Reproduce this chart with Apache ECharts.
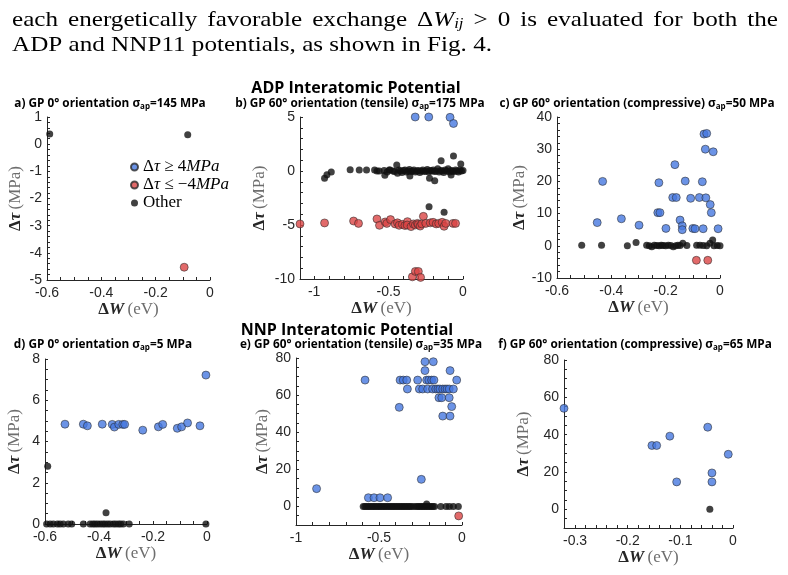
<!DOCTYPE html>
<html>
<head>
<meta charset="utf-8">
<script src="https://cdn.jsdelivr.net/npm/echarts@6/dist/echarts.min.js"></script>
<style>
  html, body { margin: 0; padding: 0; background: #fff; }
  #chart { width: 788px; height: 575px; }
</style>
</head>
<body>
<div id="chart"></div>
<script>
// ---- data: [dW (eV), dTau (MPa)] ----
var aHi = [];
var aLo = [[-0.095, -4.53]];
var aOther = [[-0.59, 0.37], [-0.082, 0.35]];

var bHi = [[-0.321, 5.0], [-0.23, 5.0], [-0.087, 4.97], [-0.064, 4.4]];
var bLo = [
  [-1.095, -4.9], [-0.93, -4.81], [-0.735, -4.63], [-0.702, -4.85], [-0.578, -4.44], [-0.561, -5.03],
  [-0.523, -4.72], [-0.512, -4.85], [-0.487, -4.5], [-0.456, -4.9], [-0.44, -4.8], [-0.429, -5.03],
  [-0.407, -4.94], [-0.39, -5.05], [-0.373, -4.69], [-0.375, -5.0], [-0.349, -5.15], [-0.333, -4.9],
  [-0.32, -5.0], [-0.306, -4.85], [-0.3, -4.95], [-0.288, -5.1], [-0.277, -4.9], [-0.266, -4.2],
  [-0.25, -4.85], [-0.22, -4.8], [-0.201, -4.75], [-0.18, -4.9], [-0.163, -4.85], [-0.14, -4.75],
  [-0.127, -5.12], [-0.116, -4.85], [-0.067, -4.85], [-0.05, -4.85],
  [-0.34, -9.8], [-0.32, -9.3], [-0.3, -9.3], [-0.285, -9.85]
];
var bOther = [
  [-0.93, -0.68], [-0.914, -0.34], [-0.885, -0.1], [-0.758, 0.12], [-0.697, 0.1], [-0.648, 0.1],
  [-0.594, 0.1], [-0.578, 0], [-0.563, 0], [-0.525, -0.4], [-0.496, 0.1], [-0.445, 0.55], [-0.44, -0.2],
  [-0.357, -0.47], [-0.225, -0.68], [-0.19, -0.9], [-0.147, 0.95], [-0.064, 1.39], [-0.015, 0.65],
  [-0.08, -0.37], [-0.228, -3.3], [-0.127, -3.83],
  [-0.53, 0.05], [-0.51, -0.1], [-0.49, 0.1], [-0.47, 0], [-0.46, -0.05], [-0.43, 0.1], [-0.42, 0],
  [-0.41, -0.15], [-0.4, 0.05], [-0.39, 0.1], [-0.38, -0.1], [-0.37, 0], [-0.36, 0.15], [-0.35, -0.05],
  [-0.34, 0], [-0.33, 0.1], [-0.32, -0.1], [-0.31, 0], [-0.3, 0.05], [-0.29, -0.15], [-0.28, 0],
  [-0.27, 0.1], [-0.26, -0.05], [-0.25, 0], [-0.24, 0.15], [-0.23, -0.1], [-0.22, 0.05], [-0.21, 0],
  [-0.2, 0.1], [-0.19, -0.05], [-0.18, 0], [-0.17, 0.2], [-0.16, -0.1], [-0.15, 0.05], [-0.14, 0],
  [-0.13, -0.15], [-0.12, 0.1], [-0.11, 0], [-0.1, 0.2], [-0.09, -0.1], [-0.08, 0.05], [-0.07, 0],
  [-0.06, -0.05], [-0.05, 0.1], [-0.04, 0], [-0.03, -0.1], [-0.02, 0.1], [-0.01, 0], [0, 0.05]
];

var cHi = [
  [-0.059, 34.7], [-0.049, 34.9], [-0.054, 30.0], [-0.025, 29.2], [-0.166, 25.2], [-0.432, 20.0],
  [-0.225, 19.6], [-0.128, 20.1], [-0.065, 19.9], [-0.174, 15.0], [-0.161, 15.0], [-0.108, 14.75],
  [-0.076, 15.0], [-0.052, 14.9], [-0.036, 12.8], [-0.229, 10.3], [-0.221, 10.3], [-0.032, 10.3],
  [-0.452, 7.2], [-0.363, 8.4], [-0.298, 6.4], [-0.147, 8.0], [-0.199, 5.4], [-0.139, 6.2],
  [-0.139, 5.0], [-0.1, 5.4], [-0.092, 5.3], [-0.062, 5.3], [-0.007, 5.3]
];
var cLo = [[-0.087, -4.5], [-0.045, -4.5]];
var cOther = [
  [-0.509, 0.15], [-0.436, 0.15], [-0.341, 0.05], [-0.309, 1.0], [-0.27, 0.2], [-0.26, 0],
  [-0.251, -0.3], [-0.242, 0.2], [-0.233, 0.1], [-0.224, 0], [-0.216, 0.2], [-0.209, 0.1],
  [-0.2, 0], [-0.19, 0.2], [-0.181, 0.1], [-0.172, -0.3], [-0.163, 0], [-0.155, 0.2],
  [-0.147, 0.1], [-0.137, 0.8], [-0.122, 0.1], [-0.086, 0.15], [-0.074, 0.2], [-0.062, 0.1],
  [-0.049, 0], [-0.037, 0.8], [-0.027, 1.8], [-0.022, 0], [-0.01, 0.1], [0, 0]
];

var dHi = [
  [-0.526, 4.84], [-0.458, 4.84], [-0.443, 4.76], [-0.388, 4.84], [-0.351, 4.83], [-0.343, 4.7],
  [-0.327, 4.83], [-0.312, 4.83], [-0.305, 4.83], [-0.238, 4.55], [-0.18, 4.71], [-0.164, 4.83],
  [-0.11, 4.64], [-0.094, 4.71], [-0.072, 4.9], [-0.026, 4.76], [-0.004, 7.22]
];
var dLo = [];
var dOther = [
  [-0.59, 2.8], [-0.374, 0.55],
  [-0.594, 0], [-0.581, 0], [-0.569, 0], [-0.554, 0], [-0.544, 0], [-0.532, 0], [-0.514, 0], [-0.501, 0],
  [-0.458, 0], [-0.433, 0], [-0.423, 0], [-0.415, 0], [-0.406, 0], [-0.396, 0], [-0.386, 0], [-0.378, 0],
  [-0.368, 0], [-0.359, 0], [-0.347, 0], [-0.338, 0], [-0.328, 0], [-0.32, 0], [-0.31, 0], [-0.288, 0],
  [-0.004, 0]
];

var eHi = [
  [-0.223, 78], [-0.173, 78], [-0.223, 73.2], [-0.072, 73.2],
  [-0.584, 68.1], [-0.373, 68.1], [-0.354, 68.1], [-0.333, 68.1], [-0.267, 68.1], [-0.213, 68.1],
  [-0.2, 68.1], [-0.183, 68.1], [-0.169, 68.1], [-0.032, 68.1],
  [-0.329, 63.3], [-0.257, 63.3], [-0.237, 63.3], [-0.207, 63.3], [-0.177, 63.3], [-0.158, 63.3],
  [-0.145, 63.3], [-0.133, 63.3], [-0.116, 63.3], [-0.102, 63.3], [-0.09, 63.3], [-0.077, 63.3],
  [-0.052, 63.3], [-0.139, 58.6], [-0.122, 58.6], [-0.077, 58.6], [-0.378, 53.4], [-0.062, 53.8],
  [-0.116, 48.7], [-0.072, 48.7], [-0.245, 14.6], [-0.876, 9.6],
  [-0.564, 4.7], [-0.53, 4.7], [-0.494, 4.7], [-0.448, 4.7]
];
var eLo = [[-0.02, -5.1]];
var eOther = [
  [-0.595, 0], [-0.585, 0], [-0.575, 0], [-0.565, 0], [-0.555, 0], [-0.545, 0], [-0.535, 0], [-0.525, 0],
  [-0.515, 0], [-0.505, 0], [-0.495, 0], [-0.485, 0], [-0.475, 0], [-0.465, 0], [-0.455, 0], [-0.445, 0],
  [-0.435, 0], [-0.425, 0], [-0.415, 0], [-0.405, 0], [-0.395, 0], [-0.385, 0], [-0.375, 0], [-0.365, 0],
  [-0.355, 0], [-0.345, 0], [-0.335, 0], [-0.325, 0], [-0.315, 0], [-0.305, 0], [-0.29, 0], [-0.275, 0],
  [-0.265, 0], [-0.255, 0], [-0.245, 0], [-0.235, 0], [-0.225, 0], [-0.215, 0], [-0.205, 0], [-0.195, 0],
  [-0.185, 0], [-0.175, 0], [-0.165, 0], [-0.128, 0], [-0.096, 0], [-0.076, 0], [-0.052, 0], [-0.022, 0],
  [-0.213, 1.3]
];

var fHi = [
  [-0.321, 54.1], [-0.154, 34.2], [-0.145, 34.2], [-0.12, 39.2], [-0.107, 14.7],
  [-0.048, 44.0], [-0.04, 19.5], [-0.04, 14.7], [-0.009, 29.5]
];
var fLo = [];
var fOther = [[-0.044, 0]];

// ---- tick labels ----
var aXTicks = [-0.6, -0.4, -0.2, 0], aYTicks = [-5, -4, -3, -2, -1, 0, 1];
var bXTicks = [-1, -0.5, 0], bYTicks = [-10, -5, 0, 5];
var cXTicks = [-0.6, -0.4, -0.2, 0], cYTicks = [-10, 0, 10, 20, 30, 40];
var dXTicks = [-0.6, -0.4, -0.2, 0], dYTicks = [0, 2, 4, 6, 8];
var eXTicks = [-1, -0.5, 0], eYTicks = [0, 20, 40, 60, 80];
var fXTicks = [-0.3, -0.2, -0.1, 0], fYTicks = [0, 20, 40, 60, 80];

var titles = [
  'a) GP 0° orientation σ{s|ap}=145 MPa',
  'b) GP 60° orientation (tensile) σ{s|ap}=175 MPa',
  'c) GP 60° orientation (compressive) σ{s|ap}=50 MPa',
  'd) GP 0° orientation σ{s|ap}=5 MPa',
  'e) GP 60° orientation (tensile) σ{s|ap}=35 MPa',
  'f) GP 60° orientation (compressive) σ{s|ap}=65 MPa'
];

var BLUE = '#4678e0', RED = '#db4545', DARK = '#111111', EDGE = '#2a2a2a', AXIS = '#262626';
var SERIF = '"Liberation Serif", "DejaVu Serif", serif';
var SANS = '"Open Sans", "Noto Sans", sans-serif';

var panels = [
  { grid: [47, 117, 163, 163], x: [-0.6, 0], y: [-5, 1], xt: aXTicks, yt: aYTicks, xm: 0.05, ym: 0.2, hi: aHi, lo: aLo, other: aOther, yGap: 23, tx: 110, ty: 104 },
  { grid: [300, 117, 163, 162], x: [-1.095, 0], y: [-10, 5], xt: bXTicks, yt: bYTicks, xm: 0.1, ym: 1, hi: bHi, lo: bLo, other: bOther, yGap: 32, tx: 360, ty: 104 },
  { grid: [557, 117, 163, 161], x: [-0.6, 0], y: [-10, 40], xt: cXTicks, yt: cYTicks, xm: 0.05, ym: 2, hi: cHi, lo: cLo, other: cOther, yGap: 21, tx: 637, ty: 104 },
  { grid: [45, 359, 162, 165], x: [-0.6, 0], y: [0, 8], xt: dXTicks, yt: dYTicks, xm: 0.05, ym: 0.5, hi: dHi, lo: dLo, other: dOther, yGap: 22, tx: 103, ty: 345 },
  { grid: [296, 358, 166, 167], x: [-1, 0], y: [-10, 80], xt: eXTicks, yt: eYTicks, xm: 0.1, ym: 5, hi: eHi, lo: eLo, other: eOther, yGap: 24, tx: 361, ty: 345 },
  { grid: [564, 360, 169, 168], x: [-0.321, 0], y: [-10, 80], xt: fXTicks, yt: fYTicks, xm: 0.02, ym: 5, hi: fHi, lo: fLo, other: fOther, yGap: 32, tx: 635, ty: 345 }
];

function tickRange(min, max, step) {
  var out = [];
  var k0 = Math.ceil(min / step - 1e-6), k1 = Math.floor(max / step + 1e-6);
  for (var k = k0; k <= k1; k++) out.push(+(k * step).toFixed(6));
  return out;
}

var nameRich = {
  bd: { fontFamily: SERIF, fontWeight: 'bold', fontSize: 17, color: AXIS },
  bi: { fontFamily: SERIF, fontWeight: 'bold', fontStyle: 'italic', fontSize: 17, color: AXIS },
  n: { fontFamily: SERIF, fontSize: 17, color: '#6e6e6e' }
};

function axisCommon(i, range, ticks, minor) {
  return {
    gridIndex: i, type: 'value', min: range[0], max: range[1],
    axisLine: { show: true, onZero: false, lineStyle: { color: AXIS, width: 1 } },
    axisTick: { show: true, inside: true, length: 3, customValues: tickRange(range[0], range[1], minor), lineStyle: { color: AXIS, width: 1 } },
    axisLabel: { customValues: ticks, color: AXIS, fontFamily: '"Liberation Sans", Arial, sans-serif', fontSize: 14 },
    splitLine: { show: false },
    nameLocation: 'middle',
    nameTextStyle: { rich: nameRich }
  };
}

var grids = [], xAxes = [], yAxes = [], series = [];
panels.forEach(function (p, i) {
  grids.push({ left: p.grid[0], top: p.grid[1], width: p.grid[2], height: p.grid[3], containLabel: false });
  var xa = axisCommon(i, p.x, p.xt, p.xm);
  xa.position = 'bottom';
  xa.axisLabel.margin = 6;
  xa.name = '{bd|Δ}{bi|W} {n|(eV)}';
  xa.nameGap = 21;
  xAxes.push(xa);
  var ya = axisCommon(i, p.y, p.yt, p.ym);
  ya.position = 'left';
  ya.axisLabel.margin = 5;
  ya.name = '{bd|Δ}{bi|τ} {n|(MPa)}';
  ya.nameGap = p.yGap;
  ya.nameRotate = 90;
  yAxes.push(ya);
  series.push(
    { type: 'scatter', name: 'hi', xAxisIndex: i, yAxisIndex: i, data: p.hi, symbolSize: 8, clip: false,
      itemStyle: { color: BLUE, borderColor: EDGE, borderWidth: 0.7 } },
    { type: 'scatter', name: 'lo', xAxisIndex: i, yAxisIndex: i, data: p.lo, symbolSize: 8, clip: false,
      itemStyle: { color: RED, borderColor: EDGE, borderWidth: 0.7 } },
    { type: 'scatter', name: 'other', xAxisIndex: i, yAxisIndex: i, data: p.other, symbolSize: 7, clip: false,
      itemStyle: { color: DARK, borderWidth: 0 } }
  );
});

// ---- texts: paragraph, figure titles, panel titles ----
var ctx = document.createElement('canvas').getContext('2d');
function tw(str, font) { ctx.font = font; return ctx.measureText(str).width; }

var PF = '21px ' + SERIF, PFI = 'italic 21px ' + SERIF, PFS = 'italic 14px ' + SERIF;
var paraLine1 = ['each', 'energetically', 'favorable', 'exchange', 'ΔWij', '>', '0', 'is', 'evaluated', 'for', 'both', 'the'];
var paraLine2 = 'ADP and NNP11 potentials, as shown in Fig. 4.';

var graphics = [];
var sx = 480 / tw(paraLine2, PF);
graphics.push({ type: 'text', x: 12, y: 45, scaleX: sx, silent: true,
  style: { text: paraLine2, font: PF, fill: '#000', verticalAlign: 'middle' } });

var wWidths = paraLine1.map(function (w) {
  if (w === 'ΔWij') return tw('Δ', PF) + tw('W', PFI) + tw('ij', PFS);
  return tw(w, PF);
});
var wTotal = wWidths.reduce(function (s, v) { return s + v; }, 0) * sx;
var wGap = (766 - wTotal) / (paraLine1.length - 1);
var cx = 12;
paraLine1.forEach(function (w, k) {
  var st = { text: w, font: PF, fill: '#000', verticalAlign: 'middle' };
  if (w === 'ΔWij') {
    st = { text: '{r|Δ}{i|W}{s|ij}', fill: '#000', verticalAlign: 'middle',
      rich: {
        r: { fontFamily: SERIF, fontSize: 21, lineHeight: 23 },
        i: { fontFamily: SERIF, fontSize: 21, fontStyle: 'italic', lineHeight: 23 },
        s: { fontFamily: SERIF, fontSize: 14, fontStyle: 'italic', lineHeight: 14, padding: [9, 0, 0, 0], verticalAlign: 'bottom' }
      } };
  }
  graphics.push({ type: 'text', x: cx, y: 20, scaleX: sx, silent: true, style: st });
  cx += wWidths[k] * sx + wGap;
});

graphics.push(
  { type: 'text', x: 356, y: 88, silent: true,
    style: { text: 'ADP Interatomic Potential', font: 'bold 16px ' + SANS, fill: '#000', align: 'center', verticalAlign: 'middle' } },
  { type: 'text', x: 347, y: 330, silent: true,
    style: { text: 'NNP Interatomic Potential', font: 'bold 16px ' + SANS, fill: '#000', align: 'center', verticalAlign: 'middle' } }
);

panels.forEach(function (p, i) {
  graphics.push({ type: 'text', x: p.tx, y: p.ty, silent: true,
    style: { text: titles[i], fill: '#000', align: 'center', verticalAlign: 'middle',
      fontFamily: SANS, fontWeight: 'bold', fontSize: 11.8, lineHeight: 14,
      rich: { s: { fontFamily: SANS, fontWeight: 'bold', fontSize: 8, lineHeight: 9, padding: [5, 0, 0, 0], verticalAlign: 'bottom' } } } });
});

var legendRich = {
  r: { fontFamily: SERIF, fontSize: 17, color: '#000', lineHeight: 18 },
  i: { fontFamily: SERIF, fontSize: 17, fontStyle: 'italic', color: '#000', lineHeight: 18 }
};
var legendText = {
  hi: '{r|Δ}{i|τ}{r| ≥ 4}{i|MPa}',
  lo: '{r|Δ}{i|τ}{r| ≤ −4}{i|MPa}',
  other: '{r|Other}'
};

var chart = echarts.init(document.getElementById('chart'));
chart.setOption({
  animation: false,
  backgroundColor: '#fff',
  grid: grids,
  xAxis: xAxes,
  yAxis: yAxes,
  series: series,
  legend: {
    data: ['hi', 'lo', 'other'], orient: 'vertical', left: 125, top: 153,
    itemWidth: 7, itemHeight: 7, itemGap: 0, icon: 'circle', selectedMode: false,
    formatter: function (name) { return legendText[name]; },
    textStyle: { rich: legendRich, lineHeight: 18 }
  },
  graphic: graphics
});
</script>
</body>
</html>
